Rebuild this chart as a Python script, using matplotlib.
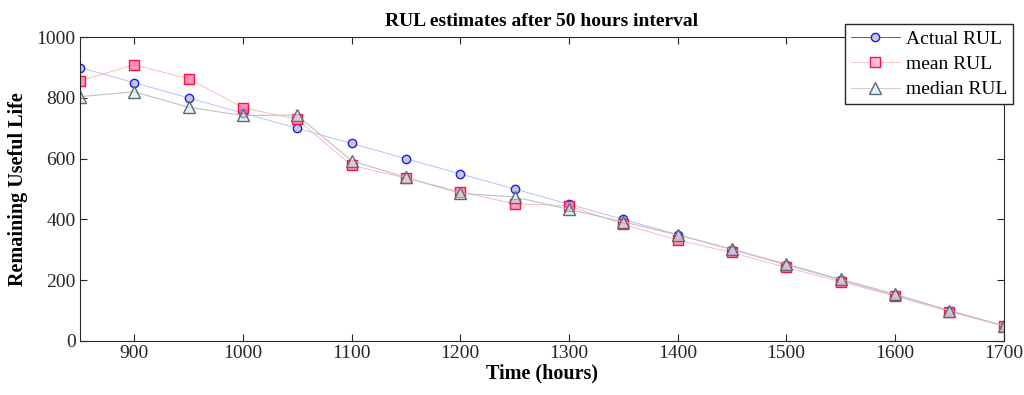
import matplotlib
matplotlib.use("Agg")
import matplotlib.pyplot as plt

# hours at which the RUL is estimated
time_h = [850, 900, 950, 1000, 1050, 1100, 1150, 1200, 1250, 1300,
          1350, 1400, 1450, 1500, 1550, 1600, 1650, 1700]

actual_rul = [900, 850, 800, 750, 700, 650, 600, 550, 500, 450,
              400, 350, 300, 250, 200, 150, 100, 50]
mean_rul = [856, 909, 863, 768, 729, 578, 536, 491, 451, 445,
            384, 332, 291, 242, 195, 148, 96, 49]
median_rul = [804, 820, 769, 742, 743, 593, 538, 486, 474, 433,
              392, 349, 302, 253, 203, 154, 100, 50]

plt.rcParams.update({
    "font.family": "Liberation Serif",
    "font.size": 14,
    "xtick.direction": "in",
    "ytick.direction": "in",
    "xtick.top": True,
    "ytick.right": True,
    "axes.edgecolor": "#262626",
    "axes.linewidth": 0.8,
})

fig = plt.figure(figsize=(10.24, 3.95), dpi=100)
ax = fig.add_axes([0.078, 0.137, 0.902, 0.769])

# thin, faint connecting lines with solid markers (MATLAB look)
ax.plot(time_h, actual_rul, color="#b4b4ff", lw=0.6,
        marker="o", ms=6, mfc="#c8c8d0", mec="#1a1aff", mew=1.0,
        label="Actual RUL")
ax.plot(time_h, mean_rul, color="#ffb0b0", lw=0.6,
        marker="s", ms=7, mfc=(1.0, 0.45, 0.68, 0.75), mec="#ff1040",
        mew=1.0, label="mean RUL")
ax.plot(time_h, median_rul, color="#c0c0c0", lw=0.8,
        marker="^", ms=8, mfc=(0.78, 0.94, 0.96, 0.55), mec="#606870",
        mew=1.0, label="median RUL")

ax.set_xlim(850, 1700)
ax.set_ylim(0, 1000)
ax.set_xticks(range(900, 1701, 100))
ax.set_yticks(range(0, 1001, 200))
ax.tick_params(labelsize=14, length=5, width=0.8, colors="#262626", pad=3)

ax.set_title("RUL estimates after 50 hours interval", fontsize=14,
             fontweight="bold", pad=8)
ax.set_xlabel("Time (hours)", fontsize=14.5, fontweight="bold", labelpad=1)
ax.set_ylabel("Remaining Useful Life", fontsize=14.5, fontweight="bold",
              labelpad=6)

leg = ax.legend(loc="upper right", bbox_to_anchor=(0.989, 0.939),
                bbox_transform=fig.transFigure, fontsize=14,
                fancybox=False, framealpha=1, edgecolor="#262626",
                borderpad=0.3, labelspacing=0.4, handlelength=2.5,
                handletextpad=0.3, borderaxespad=0)
leg.get_frame().set_linewidth(1.0)
leg.legend_handles[0].set_color("#3030ff")
leg.legend_handles[0].set_markerfacecolor("#c8c8d0")
leg.legend_handles[1].set_color("#ffc0c0")
leg.legend_handles[1].set_markerfacecolor("#ffc0dc")
leg.legend_handles[2].set_color("#d0d0d0")
leg.legend_handles[2].set_markerfacecolor("#d8f4f8")

fig.savefig("out.png", dpi=100)
